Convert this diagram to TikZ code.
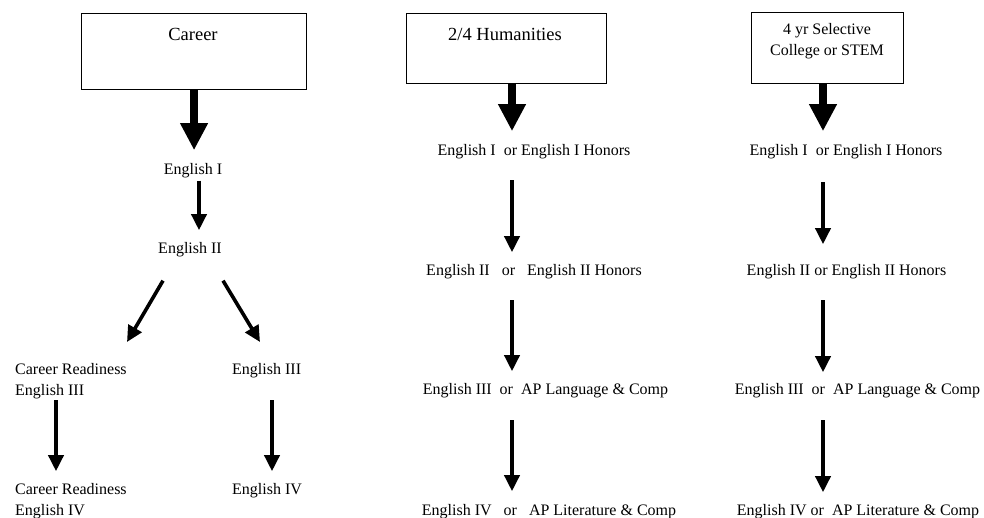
\documentclass[tikz,border=0pt]{standalone}
\usepackage{fontspec}
\setmainfont{Liberation Serif}
\usetikzlibrary{arrows.meta,calc}
\begin{document}
\begin{tikzpicture}[x=1pt,y=-1pt,
  txt/.style={font=\fontsize{16}{21}\selectfont, inner sep=0pt},
  bigtxt/.style={font=\fontsize{18.5}{22}\selectfont, inner sep=0pt},
  box/.style={draw, line width=1.1pt, inner sep=0pt},
  bigarrow/.style={line width=8pt, -{Triangle[width=26pt,length=27pt]}},
  thinarrow/.style={line width=3.6pt, -{Triangle[width=15pt,length=16pt]}}]
\useasboundingbox (0,0) rectangle (984,517);
\coordinate (cx) at (199,0);
\coordinate (lx) at (56,0);
\coordinate (rx) at (272,0);
\coordinate (hx) at (512,0);
\coordinate (sx) at (823,0);
% ---- column 1: Career
\node[box, minimum width=225pt, minimum height=76pt, anchor=north west] (career) at (81,13) {};
\node[bigtxt, anchor=base] (careert) at (193,40) {Career};
\node[txt, anchor=base] (c1) at (193,174) {English I};
\node[txt, anchor=base] (c2) at (190,253) {English II};
\node[txt, anchor=base west, align=left] (c3l) at (15,395) {Career Readiness\\English III};
\node[txt, anchor=base west] (c3r) at (232,374) {English III};
\node[txt, anchor=base west, align=left] (c4l) at (15,515) {Career Readiness\\English IV};
\node[txt, anchor=base west] (c4r) at (232,494) {English IV};
\draw[bigarrow, shorten >=12.5pt] (career.south) -- (career.south |- c1.north);
\draw[thinarrow, shorten <=3pt, shorten >=11.5pt] (c1.south -| cx) -- (c2.north -| cx);
\coordinate (dl) at (127,342);
\coordinate (dr) at (260,342);
\draw[thinarrow] ([xshift=-27pt,yshift=-24pt]c2.south) -- (dl);
\draw[thinarrow] ([xshift=33pt,yshift=-24pt]c2.south) -- (dr);
\draw[thinarrow, shorten <=1.7pt, shorten >=11.5pt] (c3l.south -| lx) -- (c4l.north -| lx);
\draw[thinarrow, shorten <=22.7pt, shorten >=11.5pt] (c3r.south -| rx) -- (c4r.north -| rx);
% ---- column 2: 2/4 Humanities
\node[box, minimum width=200pt, minimum height=70pt, anchor=north west] (hum) at (406,13) {};
\node[bigtxt, anchor=base] (humt) at (505,40) {2/4 Humanities};
\node[txt, anchor=base] (h1) at (534,155) {English I\ \ or English I Honors};
\node[txt, anchor=base] (h2) at (534,275) {English II\ \ \ or\ \ \ English II Honors};
\node[txt, anchor=base] (h3) at (545.5,394) {English III\ \ or\ \ AP Language \& Comp};
\node[txt, anchor=base] (h4) at (549,515) {English IV\ \ \ or\ \ \ AP Literature \& Comp};
\draw[bigarrow, shorten >=12.5pt] (hum.south -| hx) -- (h1.north -| hx);
\draw[thinarrow, shorten <=21.7pt, shorten >=11.5pt] (h1.south -| hx) -- (h2.north -| hx);
\draw[thinarrow, shorten <=21.7pt, shorten >=11.5pt] (h2.south -| hx) -- (h3.north -| hx);
\draw[thinarrow, shorten <=22.7pt, shorten >=12.5pt] (h3.south -| hx) -- (h4.north -| hx);
% ---- column 3: 4 yr Selective
\node[box, minimum width=152pt, minimum height=71pt, anchor=north west] (sel) at (751,12) {};
\node[txt, anchor=base, align=center] (selt) at (827,55) {4 yr Selective\\College or STEM};
\node[txt, anchor=base] (s1) at (846,155) {English I\ \ or English I Honors};
\node[txt, anchor=base] (s2) at (846.5,275) {English II or English II Honors};
\node[txt, anchor=base] (s3) at (857.5,394) {English III\ \ or\ \ AP Language \& Comp};
\node[txt, anchor=base] (s4) at (858,515) {English IV or\ \ AP Literature \& Comp};
\draw[bigarrow, shorten >=12.5pt] (sel.south -| sx) -- (s1.north -| sx);
\draw[thinarrow, shorten <=23.7pt, shorten >=19.5pt] (s1.south -| sx) -- (s2.north -| sx);
\draw[thinarrow, shorten <=21.7pt, shorten >=10.5pt] (s2.south -| sx) -- (s3.north -| sx);
\draw[thinarrow, shorten <=22.7pt, shorten >=11.5pt] (s3.south -| sx) -- (s4.north -| sx);
\end{tikzpicture}
\end{document}
